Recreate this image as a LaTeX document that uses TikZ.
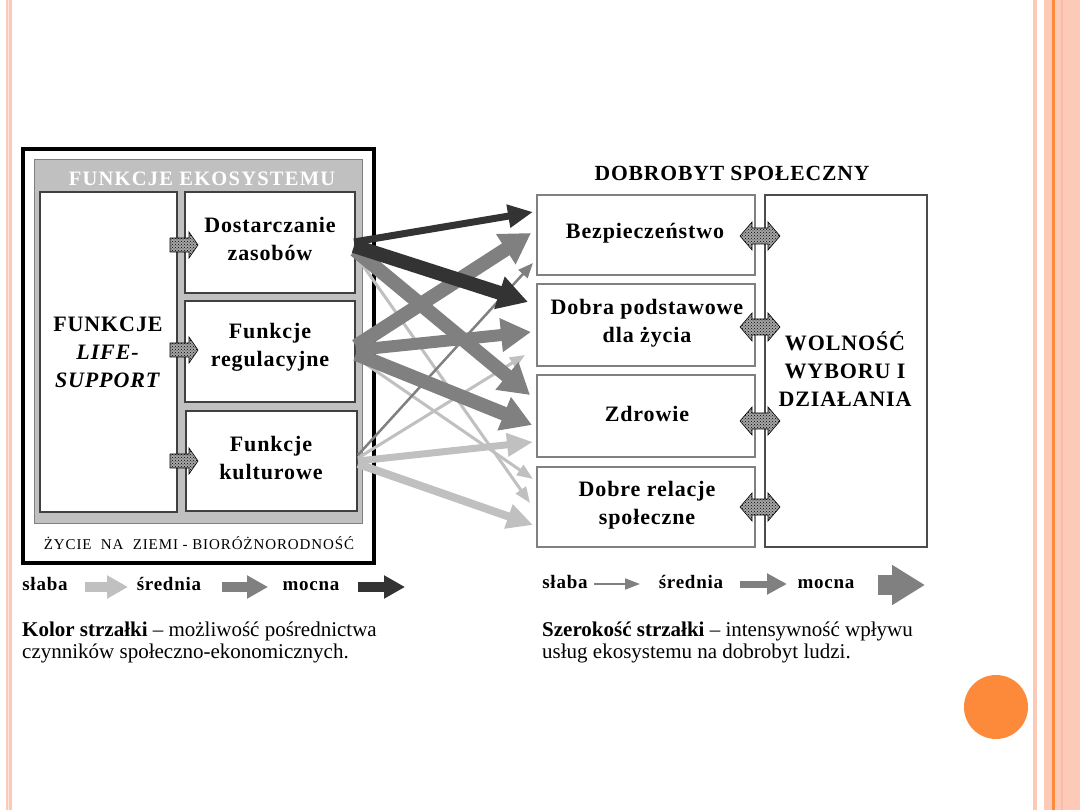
\documentclass[tikz,border=0pt]{standalone}
\usepackage{fontspec}
\setmainfont{Liberation Serif}
\newfontfamily\lsf{Liberation Serif}[LetterSpace=4]
\newfontfamily\lsfw{Liberation Serif}[LetterSpace=6]
\usetikzlibrary{arrows.meta,patterns}
\definecolor{pinkst}{HTML}{FDCAB7}
\definecolor{pinkdk}{HTML}{F8BDA6}
\definecolor{orst}{HTML}{FD8A3A}
\definecolor{dk}{HTML}{333333}
\definecolor{md}{HTML}{808080}
\definecolor{lt}{HTML}{C0C0C0}
\definecolor{boxgray}{HTML}{C0C0C0}
\tikzset{
  arr/.style n args={4}{draw=#1, line width=#2, -{Triangle[length=#3,width=#4]}},
  hatch/.style={draw=black, line width=0.6pt, preaction={fill=gray!70}, pattern=crosshatch dots, pattern color=black},
  wbox/.style={draw=black!75, line width=1.2pt, fill=white},
  rbox/.style={draw=md, line width=1.2pt, fill=white},
  boxtext/.style={align=center, font=\lsf\bfseries\fontsize{22}{28}\selectfont},
  legtext/.style={anchor=base, font=\lsf\bfseries\fontsize{19}{19}\selectfont},
  lowtext/.style={align=left, anchor=base west, inner sep=0pt, font=\fontsize{21}{21.5}\selectfont},
}
\newcommand\smallarr[1]{\draw[hatch, shift={(0,#1)}] (170,-7) -- (189,-7) -- (189,-13) -- (198,0) -- (189,13) -- (189,7) -- (170,7) -- cycle;}
\newcommand\dblarr[1]{\draw[hatch, shift={(0,#1)}] (740,0) -- (752,-14) -- (752,-8) -- (768,-8) -- (768,-14) -- (780,0) -- (768,14) -- (768,8) -- (752,8) -- (752,14) -- cycle;}
\begin{document}
\begin{tikzpicture}[x=1pt,y=-1pt]
\useasboundingbox (0,0) rectangle (1080,810);
\fill[white] (0,0) rectangle (1080,810);
% slide decoration
\fill[pinkst] (6,0) rectangle (12,810);
\fill[white!55!pinkst] (8,0) rectangle (9,810);
\fill[pinkst] (1033,0) rectangle (1037,810);
\fill[pinkst] (1044,0) rectangle (1080,810);
\fill[orst] (1052,0) rectangle (1054.5,810);
\fill[pinkdk] (1061,0) rectangle (1063,810);
\fill[orst] (996,707) circle[radius=32pt];

% left block
\draw[line width=3.5pt] (23,149) rectangle (374,563);
\draw[fill=boxgray, draw=md, line width=1pt] (34,160) rectangle (362,523);
\node[font=\lsfw\bfseries\fontsize{20.5}{20.5}\selectfont, text=white] (title) at (202,179) {FUNKCJE EKOSYSTEMU};
\draw[wbox] (40,192) rectangle (177,512);
\draw[wbox] (185,192) rectangle (355,293);
\draw[wbox] (185,301) rectangle (355,402);
\draw[wbox] (186,411) rectangle (357,511);
\node[boxtext] (life) at (108,352) {FUNKCJE\\\textit{LIFE-}\\\textit{SUPPORT}};
\node[boxtext] (dost) at (270,239) {Dostarczanie\\zasobów};
\node[boxtext] (regul) at (270,347) {Funkcje\\regulacyjne};
\node[boxtext] (kult) at (271,458) {Funkcje\\kulturowe};
\node[font=\lsfw\fontsize{15}{15}\selectfont] (zycie) at (199,543) {ŻYCIE\ \ NA\ \ ZIEMI - BIORÓŻNORODNOŚĆ};
\smallarr{245}
\smallarr{350}
\smallarr{461}

% right block
\node[font=\lsf\bfseries\fontsize{21.6}{21.6}\selectfont] (dobro) at (732,173) {DOBROBYT SPOŁECZNY};
\draw[rbox] (537,195) rectangle (755,275);
\draw[rbox] (537,284) rectangle (755,366);
\draw[rbox] (537,375) rectangle (755,457);
\draw[rbox] (537,467) rectangle (755,547);
\draw[draw=black!70, line width=1.2pt, fill=white] (765,195) rectangle (927,547);
\node[boxtext] (bezp) at (645,233) {Bezpieczeństwo};
\node[boxtext] (dobra) at (647,323) {Dobra podstawowe\\dla życia};
\node[boxtext] (zdrow) at (647,414) {Zdrowie};
\node[boxtext] (relac) at (647,505) {Dobre relacje\\społeczne};
\node[boxtext] (wolnosc) at (845,369) {WOLNOŚĆ\\WYBORU I\\DZIAŁANIA};
\dblarr{236}
\dblarr{327}
\dblarr{421}
\dblarr{507}

% connector coordinates
\coordinate (sD1) at (354,242); \coordinate (sD2) at (354,246);
\coordinate (sD3) at (355,250); \coordinate (sD4) at (357,257);
\coordinate (sR1) at (356,346); \coordinate (sR2) at (356,350);
\coordinate (sR3) at (356,354); \coordinate (sR4) at (357,358);
\coordinate (sK1) at (358,455); \coordinate (sK2) at (358,458);
\coordinate (sK3) at (358,461); \coordinate (sK4) at (358,464);
\coordinate (tD1) at (533,212); \coordinate (tD2) at (528,302);
\coordinate (tD3) at (530,395); \coordinate (tD4) at (530,503);
\coordinate (tR1) at (531,233); \coordinate (tR2) at (531,332);
\coordinate (tR3) at (532,425); \coordinate (tR4) at (533,479);
\coordinate (tK1) at (533,263); \coordinate (tK2) at (525,355);
\coordinate (tK3) at (533,442); \coordinate (tK4) at (533,525);

% light arrows
\draw[arr={lt}{3pt}{16pt}{12pt}] (sD4) -- (tD4);
\draw[arr={lt}{3pt}{16pt}{12pt}] (sR4) -- (tR4);
\draw[arr={lt}{3pt}{15pt}{12pt}] (sK2) -- (tK2);
\draw[arr={lt}{7pt}{26pt}{22pt}] (sK3) -- (tK3);
\draw[arr={lt}{8pt}{26pt}{24pt}] (sK4) -- (tK4);
% medium arrows
\draw[arr={md}{2.5pt}{15pt}{12pt}] (sK1) -- (tK1);
\draw[arr={md}{14pt}{30pt}{34pt}] (sR1) -- (tR1);
\draw[arr={md}{12pt}{30pt}{32pt}] (sR2) -- (tR2);
\draw[arr={md}{14pt}{30pt}{34pt}] (sR3) -- (tR3);
\draw[arr={md}{14pt}{30pt}{34pt}] (sD3) -- (tD3);
% dark arrows
\draw[arr={dk}{7pt}{25pt}{22pt}] (sD1) -- (tD1);
\draw[arr={dk}{14pt}{30pt}{32pt}] (sD2) -- (tD2);

% legend left (colour)
\node[legtext] (lsl) at (45,590) {słaba};
\node[legtext] (lsr) at (169,590) {średnia};
\node[legtext] (lmo) at (311,590) {mocna};
\coordinate (la1) at (85,587); \coordinate (lb1) at (128,587);
\coordinate (la2) at (222,587); \coordinate (lb2) at (268,587);
\coordinate (la3) at (358,587); \coordinate (lb3) at (405,587);
\draw[arr={lt}{10pt}{21pt}{22pt}] (la1) -- (lb1);
\draw[arr={md}{10pt}{21pt}{22pt}] (la2) -- (lb2);
\draw[arr={dk}{10pt}{21pt}{22pt}] (la3) -- (lb3);
\node[lowtext] (kolor) at (22,658) {\textbf{Kolor strzałki} – możliwość pośrednictwa\\czynników społeczno-ekonomicznych.};

% legend right (width)
\node[legtext] (rsl) at (565,588) {słaba};
\node[legtext] (rsr) at (691,588) {średnia};
\node[legtext] (rmo) at (826,588) {mocna};
\coordinate (ra1) at (594,584); \coordinate (rb1) at (640,584);
\coordinate (ra2) at (740,584); \coordinate (rb2) at (787,584);
\coordinate (ra3) at (878,585); \coordinate (rb3) at (925,585);
\draw[arr={md}{2pt}{15pt}{11pt}] (ra1) -- (rb1);
\draw[arr={md}{7pt}{20pt}{20pt}] (ra2) -- (rb2);
\draw[arr={md}{20pt}{33pt}{38pt}] (ra3) -- (rb3);
\node[lowtext] (szer) at (542,658) {\textbf{Szerokość strzałki} – intensywność wpływu\\usług ekosystemu na dobrobyt ludzi.};
\end{tikzpicture}
\end{document}
